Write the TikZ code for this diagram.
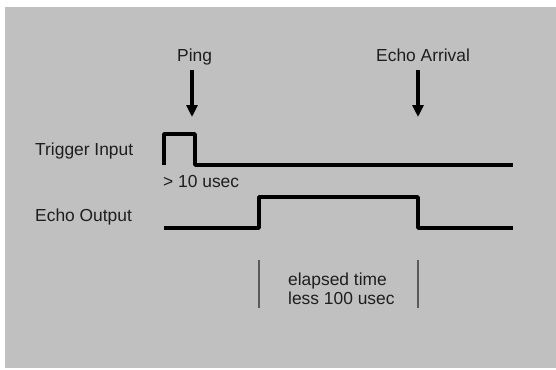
\documentclass[tikz,border=0pt]{standalone}
\usepackage{fontspec}
\setmainfont{Liberation Sans}
\usepackage{tikz}
\usetikzlibrary{arrows,arrows.meta}
\usetikzlibrary{calc}
\usetikzlibrary{positioning}

\definecolor{panelgray}{RGB}{192,192,192}
\definecolor{inkgray}{RGB}{30,30,30}
\definecolor{bargray}{RGB}{90,90,90}

\begin{document}
\begin{tikzpicture}[
	x=1pt, y=-1pt,
  > = latex,
  lbl/.style = {font=\fontsize{17.4pt}{19pt}\selectfont, text=inkgray, anchor=base west, inner sep=0pt},
  signal/.style = {line width=3.6pt, line join=round, black},
  marker/.style = {line width=3.6pt, -{Triangle[width=11pt,length=12pt]}},
  span bar/.style = {line width=1.2pt, bargray}
  ]
	\useasboundingbox (0,0) rectangle (556,369);
	\fill[white] (0,0) rectangle (556,369);
	\fill[panelgray] (5,7) rectangle (556,368);

	% labels
	\node[lbl] (trig) at (35,155) {Trigger Input};
	\node[lbl] (echo) at (35,221) {Echo Output};
	\node[lbl] (ping) at (177,62) {Ping};
	\node[lbl] (arrival) at (376,62) {Echo Arrival};
	\node[lbl] (width) at (163,187) {> 10 usec};
	\node[lbl] (elapsed) at (288,285) {elapsed time};
	\node[lbl] (limit) at (288,304) {less 100 usec};

	\coordinate (a) at (164,165);
	\coordinate (b) at (195,134);
	\coordinate (c) at (513,165);
	
	\coordinate (d) at (164,228);
	\coordinate (e) at (259,197);
	\coordinate (f) at (418,228);
	\coordinate (g) at (513,228);

	\coordinate (pingtop) at (192,70);
	\coordinate (pinghit) at (192,117);
	\coordinate (arrtop) at (418,70);
	\coordinate (arrhit) at (418,117);

	% signals
	\draw[signal] (a) |- (b) |- (c);
	\draw[signal] (d) -| (e) -| (f) -- (g);

	% events
	\draw[marker] (pingtop) -- (pinghit);
	\draw[marker] (arrtop) -- (arrhit);

	% elapsed span
	\draw[span bar] (259,260) -- (259,308);
	\draw[span bar] (418,260) -- (418,308);
\end{tikzpicture}
\end{document}
